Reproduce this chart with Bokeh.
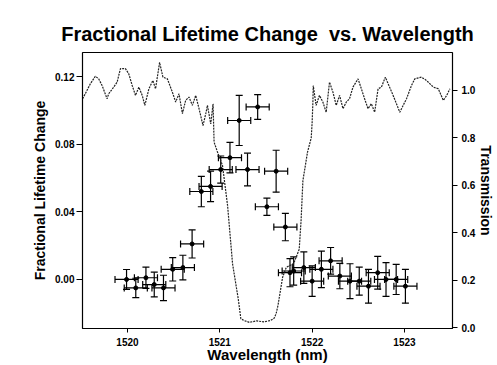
from bokeh.plotting import figure
from bokeh.models import (Range1d, LinearAxis, FixedTicker, PrintfTickFormatter,
                          Whisker, TeeHead, ColumnDataSource)
from bokeh.embed import file_html
from bokeh.resources import INLINE

# ---------------- data ----------------
wavelength = [1519.99, 1520.09, 1520.20, 1520.29, 1520.39, 1520.49, 1520.60, 1520.70,
              1520.80, 1520.90, 1521.01, 1521.11, 1521.21, 1521.30, 1521.41, 1521.51,
              1521.61, 1521.71, 1521.76, 1521.80, 1521.91, 1522.00, 1522.10, 1522.20,
              1522.30, 1522.41, 1522.51, 1522.61, 1522.71, 1522.80, 1522.91, 1523.01]
frac_change = [0.000, -0.005, 0.001, -0.003, -0.005, 0.006, 0.007, 0.021,
               0.052, 0.055, 0.065, 0.072, 0.094, 0.065, 0.102, 0.043,
               0.064, 0.031, 0.004, 0.005, 0.007, -0.001, 0.006, 0.011,
               0.002, -0.001, -0.001, -0.004, 0.004, 0.000, 0.000, -0.004]
frac_err = [0.0059, 0.0057, 0.0063, 0.0073, 0.0075, 0.0069, 0.0073, 0.0083,
            0.0090, 0.0090, 0.0080, 0.0090, 0.0148, 0.0097, 0.0073, 0.0051,
            0.0124, 0.0081, 0.0083, 0.0083, 0.0093, 0.0090, 0.0108, 0.0079,
            0.0075, 0.0103, 0.0083, 0.0100, 0.0097, 0.0100, 0.0089, 0.0100]
wl_err = 0.125

trans_wl = [1519.514, 1519.543, 1519.598, 1519.652, 1519.688, 1519.725, 1519.779, 1519.797,
            1519.851, 1519.888, 1519.924, 1519.978, 1520.014, 1520.051, 1520.087, 1520.123,
            1520.160, 1520.188, 1520.232, 1520.275, 1520.304, 1520.348, 1520.384, 1520.432,
            1520.486, 1520.522, 1520.558, 1520.595, 1520.630, 1520.666, 1520.703, 1520.739,
            1520.775, 1520.818, 1520.848, 1520.866, 1520.902, 1520.927, 1520.938, 1520.975,
            1521.029, 1521.084, 1521.138, 1521.200, 1521.228, 1521.260, 1521.320, 1521.400,
            1521.480, 1521.550, 1521.590, 1521.610, 1521.630, 1521.680, 1521.720, 1521.800,
            1521.860, 1521.880, 1521.900, 1521.950, 1521.990, 1522.000, 1522.008, 1522.012,
            1522.043, 1522.079, 1522.116, 1522.152, 1522.188, 1522.225, 1522.261, 1522.297,
            1522.334, 1522.370, 1522.405, 1522.442, 1522.497, 1522.533, 1522.568, 1522.605,
            1522.641, 1522.677, 1522.714, 1522.750, 1522.793, 1522.823, 1522.877, 1522.913,
            1522.949, 1522.986, 1523.022, 1523.076, 1523.112, 1523.185, 1523.239, 1523.312,
            1523.366, 1523.421, 1523.457, 1523.492]
transmission = [0.965, 0.986, 1.028, 1.060, 1.049, 1.021, 0.965, 0.986,
                1.014, 1.035, 1.092, 1.092, 1.070, 1.021, 0.979, 1.014,
                0.979, 0.937, 1.007, 1.042, 1.007, 1.118, 1.056, 1.049,
                0.993, 0.951, 0.986, 0.902, 0.958, 0.972, 0.937, 0.979,
                0.923, 0.852, 0.902, 0.937, 0.859, 0.944, 0.782, 0.740,
                0.684, 0.515, 0.269, 0.120, 0.037, 0.030, 0.022, 0.028,
                0.024, 0.030, 0.040, 0.059, 0.093, 0.212, 0.254, 0.270,
                0.330, 0.450, 0.620, 0.740, 0.800, 0.866, 0.950, 1.020,
                0.937, 0.979, 0.951, 0.908, 1.035, 0.993, 0.937, 0.979,
                0.923, 0.951, 0.965, 1.014, 1.049, 1.007, 0.965, 0.923,
                0.944, 0.908, 1.007, 1.014, 1.056, 1.028, 0.979, 0.944,
                0.908, 0.937, 0.965, 1.021, 1.049, 1.056, 1.042, 1.014,
                1.007, 0.958, 0.979, 1.007]

x_ticks = [1520, 1521, 1522, 1523]
y_ticks = [0.00, 0.04, 0.08, 0.12]
t_ticks = [0.0, 0.2, 0.4, 0.6, 0.8, 1.0]

FONT = "Liberation Sans"

# ---------------- figure ----------------
p = figure(width=497, height=365, output_backend="svg", toolbar_location=None,
           x_range=Range1d(1519.513, 1523.52), y_range=Range1d(-0.029, 0.1342),
           min_border_left=82, min_border_right=45, min_border_top=52, min_border_bottom=37,
           title="Fractional Lifetime Change\u00a0\u00a0vs. Wavelength")
p.extra_y_ranges = {"trans": Range1d(-0.004, 1.160)}

p.title.align = "center"
p.title.text_font = FONT
p.title.text_font_size = "20px"
p.title.text_font_style = "bold"
p.title.text_color = "black"
p.title.standoff = 15

p.xgrid.grid_line_color = None
p.ygrid.grid_line_color = None
p.outline_line_color = "black"
p.outline_line_width = 1
p.background_fill_color = "white"
p.border_fill_color = "white"

right = LinearAxis(y_range_name="trans")
p.add_layout(right, "right")

def style_axis(ax, ticks, fmt, label):
    ax.ticker = FixedTicker(ticks=ticks)
    ax.formatter = PrintfTickFormatter(format=fmt)
    ax.axis_label = label
    ax.axis_label_text_font = FONT
    ax.axis_label_text_font_style = "bold"
    ax.axis_label_text_font_size = "14px"
    ax.axis_label_text_color = "black"
    ax.major_label_text_font = FONT
    ax.major_label_text_font_style = "bold"
    ax.major_label_text_font_size = "10px"
    ax.major_label_text_color = "black"
    ax.axis_line_color = "black"
    ax.axis_line_width = 1.2
    ax.major_tick_line_color = "black"
    ax.major_tick_in = 0
    ax.major_tick_out = 5
    ax.minor_tick_line_color = None

style_axis(p.xaxis[0], x_ticks, "%d", "Wavelength (nm)")
style_axis(p.yaxis[0], y_ticks, "%.2f", "Fractional Lifetime Change")
style_axis(right, t_ticks, "%.1f", "Transmission")
p.xaxis[0].axis_label_text_font_size = "15px"
p.xaxis[0].major_tick_out = 4
p.xaxis[0].major_label_standoff = 5
p.xaxis[0].axis_label_standoff = -3
p.yaxis[0].major_tick_out = 6
p.yaxis[0].major_label_standoff = 2
p.yaxis[0].axis_label_standoff = 4
right.major_label_standoff = 4
right.axis_label_standoff = 0

# transmission trace
p.line(trans_wl, transmission, y_range_name="trans", line_color="#222222",
       line_width=1.2, line_dash="2 1")

# error bars
src = ColumnDataSource(dict(
    x=wavelength, y=frac_change,
    yl=[v - e for v, e in zip(frac_change, frac_err)],
    yu=[v + e for v, e in zip(frac_change, frac_err)],
    xl=[v - wl_err for v in wavelength],
    xu=[v + wl_err for v in wavelength],
))
vw = Whisker(base="x", lower="yl", upper="yu", dimension="height", source=src,
             line_color="black", line_width=1.2,
             lower_head=TeeHead(size=7, line_color="black", line_width=1.2),
             upper_head=TeeHead(size=7, line_color="black", line_width=1.2))
hw = Whisker(base="y", lower="xl", upper="xu", dimension="width", source=src,
             line_color="black", line_width=1.2,
             lower_head=TeeHead(size=7, line_color="black", line_width=1.2),
             upper_head=TeeHead(size=7, line_color="black", line_width=1.2))
p.add_layout(vw)
p.add_layout(hw)
p.scatter("x", "y", source=src, size=4, color="black")

open("out.html", "w").write(file_html(p, INLINE))
